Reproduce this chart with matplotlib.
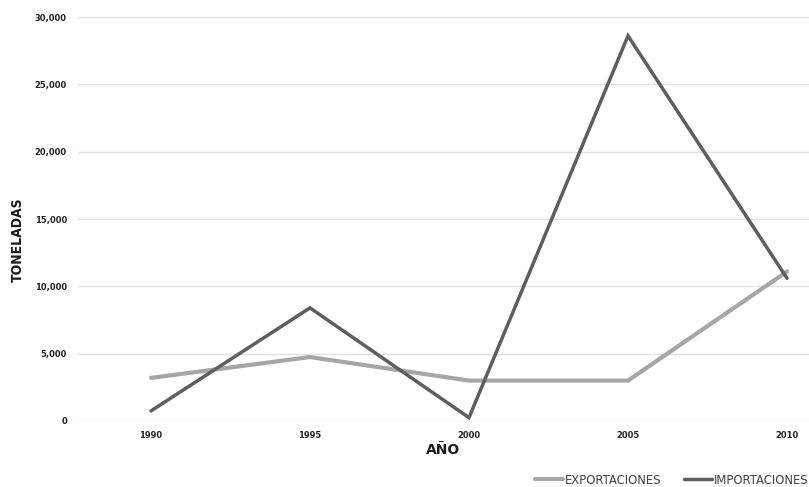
import matplotlib
matplotlib.use("Agg")
import matplotlib.pyplot as plt
from matplotlib.ticker import FuncFormatter

# values (toneladas)
years = [1990, 1995, 2000, 2005, 2010]
exportaciones = [3200, 4750, 3000, 3000, 11100]
importaciones = [750, 8400, 250, 28600, 10600]
y_ticks = [0, 5000, 10000, 15000, 20000, 25000, 30000]

fig = plt.figure(figsize=(8.09, 4.87), dpi=100)
# plot area runs off the right edge, as in the original crop
ax = fig.add_axes([78 / 809, 66 / 487, 731 / 809, 404 / 487])

ax.plot(years, exportaciones, color='#a6a6a6', lw=3.0, label='EXPORTACIONES',
        solid_capstyle='round', solid_joinstyle='miter', zorder=3)
ax.plot(years, importaciones, color='#5e5e5e', lw=2.5, label='IMPORTACIONES',
        solid_capstyle='round', solid_joinstyle='miter', zorder=4)

px_per_year = 159 / 5
ax.set_xlim(1990 - 73 / px_per_year, 1990 + (809 - 151) / px_per_year)
ax.set_ylim(0, 30000)
ax.set_xticks(years)
ax.set_yticks(y_ticks)
ax.yaxis.set_major_formatter(FuncFormatter(lambda v, p: f'{int(v):,}'))

for s in ax.spines.values():
    s.set_visible(False)
ax.grid(axis='y', color='#e3e3e3', lw=1.0)
ax.set_axisbelow(True)
ax.tick_params(length=0, labelsize=6, colors='#222222')
ax.tick_params(axis='y', pad=8)
ax.tick_params(axis='x', pad=7)
for lab in ax.get_xticklabels() + ax.get_yticklabels():
    lab.set_fontweight('bold')

ax.set_xlabel('AÑO', fontsize=10, fontweight='bold', color='#1a1a1a', labelpad=2)
fig.text(18 / 809, 1 - 240 / 487, 'TONELADAS', rotation=90, ha='center', va='center',
         fontsize=10, fontweight='bold', color='#1a1a1a', fontstretch='condensed')

fig.legend(loc='center left', bbox_to_anchor=(535 / 809, 7 / 487), ncol=2, frameon=False,
           fontsize=8.4, handlelength=2.4, handletextpad=0.2, columnspacing=1.9,
           borderpad=0, borderaxespad=0, labelcolor='#404040')

fig.savefig('out.png', dpi=100)
